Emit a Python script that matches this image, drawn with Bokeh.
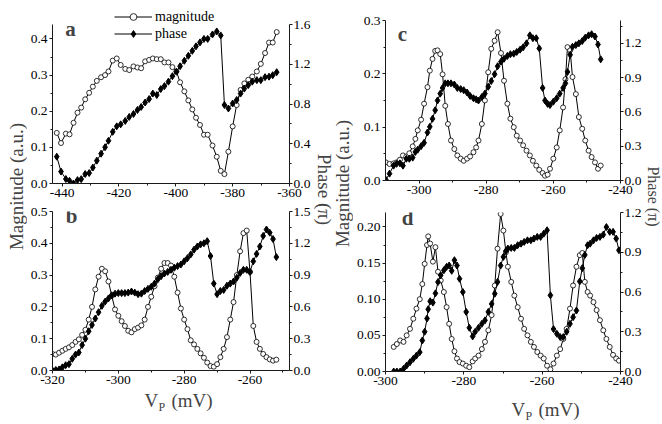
import math
from bokeh.plotting import figure
from bokeh.models import (Range1d, LinearAxis, FixedTicker, PrintfTickFormatter,
                          Label, Legend, LegendItem)
from bokeh.layouts import row, column
from bokeh.embed import file_html
from bokeh.resources import INLINE

SERIF = "Liberation Serif"

# ---------------- data ----------------
# panel a
a_x = [-441.9, -440.4, -438.7, -437.4, -436.0, -434.6, -433.3, -431.9, -430.5, -429.2,
       -427.8, -426.3, -424.9, -423.7, -422.2, -420.8, -419.4, -417.8, -416.4, -414.9,
       -413.5, -412.2, -410.8, -409.4, -408.1, -406.7, -405.3, -404.0, -402.6, -401.2,
       -399.8, -398.5, -397.0, -395.6, -394.2, -392.9, -391.5, -390.1, -388.8, -387.1,
       -385.6, -384.2, -382.9, -381.5, -380.0, -378.6, -377.2, -375.9, -374.5, -373.1,
       -371.5, -370.1, -368.6, -367.2, -365.9, -364.5]
a_mag = [0.140, 0.112, 0.138, 0.136, 0.168, 0.196, 0.210, 0.233, 0.251, 0.268,
         0.284, 0.294, 0.300, 0.310, 0.340, 0.346, 0.328, 0.317, 0.314, 0.324,
         0.321, 0.319, 0.338, 0.342, 0.346, 0.344, 0.344, 0.335, 0.335, 0.322,
         0.310, 0.280, 0.255, 0.230, 0.205, 0.182, 0.162, 0.135, 0.135, 0.105,
         0.074, 0.035, 0.026, 0.088, 0.158, 0.217, 0.259, 0.277, 0.287, 0.296,
         0.310, 0.331, 0.361, 0.390, 0.390, 0.419]
a_phase = [0.27, 0.12, 0.045, 0.027, 0.0, 0.034, 0.044, 0.095, 0.105, 0.16,
           0.23, 0.30, 0.365, 0.43, 0.52, 0.575, 0.595, 0.63, 0.67, 0.70,
           0.74, 0.77, 0.815, 0.85, 0.905, 0.89, 0.95, 0.98, 1.025, 1.08,
           1.125, 1.18, 1.235, 1.285, 1.335, 1.38, 1.42, 1.455, 1.455, 1.50,
           1.53, 1.49, 0.79, 0.755, 0.805, 0.84, 0.905, 0.955, 0.99, 1.025,
           1.04, 1.04, 1.07, 1.075, 1.09, 1.12]

# panel b
b_x = [-320, -319, -318, -317, -316, -315, -314, -313, -312, -311,
       -310, -309, -308, -307, -306, -305, -304, -303, -302, -301,
       -300, -299, -298, -297, -296, -295, -294, -293, -292, -291,
       -290, -289, -288, -287, -286, -285, -284, -283, -282, -281,
       -280, -279, -278, -277, -276, -275, -274, -273, -272, -271,
       -270, -269, -268, -267, -266, -265, -264, -263, -262, -261,
       -260, -259, -258, -257, -256, -255, -254, -253, -252]
b_mag = [0.052, 0.050, 0.056, 0.062, 0.068, 0.073, 0.080, 0.090, 0.098, 0.112,
         0.128, 0.160, 0.200, 0.255, 0.295, 0.320, 0.312, 0.280, 0.235, 0.192,
         0.172, 0.155, 0.140, 0.125, 0.120, 0.130, 0.135, 0.142, 0.160, 0.200,
         0.232, 0.265, 0.292, 0.320, 0.338, 0.338, 0.330, 0.295, 0.245, 0.195,
         0.160, 0.130, 0.095, 0.082, 0.068, 0.054, 0.040, 0.025, 0.014, 0.012,
         0.020, 0.042, 0.068, 0.105, 0.160, 0.215, 0.300, 0.375, 0.432, 0.440,
         0.310, 0.140, 0.090, 0.068, 0.052, 0.042, 0.035, 0.031, 0.034]
b_phase = [0.000, 0.005, 0.010, 0.030, 0.050, 0.060, 0.110, 0.150, 0.170, 0.240,
           0.300, 0.370, 0.430, 0.490, 0.550, 0.610, 0.650, 0.680, 0.710, 0.725,
           0.730, 0.730, 0.730, 0.735, 0.745, 0.735, 0.720, 0.725, 0.750, 0.770,
           0.790, 0.820, 0.860, 0.890, 0.915, 0.930, 0.950, 0.970, 0.985, 1.000,
           1.030, 1.060, 1.095, 1.140, 1.170, 1.190, 1.200, 1.220, 1.080, 0.820,
           0.720, 0.750, 0.760, 0.800, 0.820, 0.840, 0.875, 0.920, 0.950, 0.950,
           0.930, 1.030, 1.100, 1.170, 1.270, 1.330, 1.300, 1.240, 1.070]

# panel c
c_x = [-309.9, -308.8, -307.6, -306.7, -305.7, -304.8, -303.8, -302.9, -301.9, -301.1,
       -300.4, -299.4, -298.5, -297.5, -296.8, -296.0, -295.2, -294.5, -293.7, -293.0,
       -292.2, -291.4, -290.5, -289.5, -288.6, -287.6, -286.7, -285.7, -284.8, -283.8,
       -283.0, -282.3, -281.3, -280.4, -279.4, -278.5, -277.5, -276.6, -275.6, -274.7,
       -273.7, -272.8, -271.8, -270.9, -269.9, -269.0, -268.0, -267.0, -266.1, -265.1,
       -264.2, -263.2, -262.5, -261.7, -261.0, -260.0, -259.0, -258.1, -257.1, -256.4,
       -255.8, -255.0, -254.3, -253.3, -252.4, -251.4, -250.5, -249.5, -248.6, -247.6,
       -246.7, -245.9]
c_mag = [0.034, 0.031, 0.032, 0.034, 0.039, 0.047, 0.045, 0.051, 0.064, 0.078,
         0.094, 0.114, 0.144, 0.175, 0.206, 0.228, 0.243, 0.244, 0.237, 0.199,
         0.140, 0.106, 0.075, 0.059, 0.047, 0.041, 0.037, 0.041, 0.045, 0.053,
         0.062, 0.075, 0.106, 0.150, 0.203, 0.247, 0.262, 0.278, 0.239, 0.187,
         0.144, 0.116, 0.100, 0.084, 0.075, 0.066, 0.056, 0.047, 0.037, 0.028,
         0.020, 0.014, 0.009, 0.011, 0.022, 0.041, 0.062, 0.094, 0.137, 0.190,
         0.250, 0.244, 0.194, 0.162, 0.119, 0.097, 0.075, 0.056, 0.044, 0.034,
         0.022, 0.028]
c_phase = [0.006, 0.06, 0.13, 0.146, 0.15, 0.13, 0.19, 0.19, 0.20, 0.25,
           0.27, 0.30, 0.33, 0.42, 0.47, 0.54, 0.615, 0.70, 0.76, 0.81,
           0.85, 0.85, 0.85, 0.84, 0.81, 0.80, 0.79, 0.77, 0.74, 0.72,
           0.71, 0.70, 0.73, 0.76, 0.82, 0.87, 0.93, 1.00, 1.04, 1.065,
           1.09, 1.105, 1.11, 1.125, 1.145, 1.165, 1.20, 1.27, 1.245, 1.245,
           1.156, 0.81, 0.70, 0.67, 0.66, 0.69, 0.72, 0.76, 0.81, 0.85,
           0.95, 1.10, 1.17, 1.185, 1.20, 1.22, 1.25, 1.27, 1.28, 1.26,
           1.19, 1.06]

# panel d
d_x = [-297.9, -297.1, -296.25, -295.4, -294.6, -293.75, -292.9, -292.1, -291.25, -290.6,
       -290.0, -289.4, -289.1, -288.6, -287.9, -287.25, -286.6, -285.9, -285.1, -284.4,
       -283.75, -283.1, -282.4, -281.75, -281.1, -280.25, -279.4, -278.6, -277.75, -277.1,
       -276.25, -275.4, -274.6, -273.75, -272.9, -272.1, -271.4, -270.6, -269.9, -269.25,
       -268.75, -267.9, -267.1, -266.25, -265.4, -264.6, -263.75, -262.9, -262.1, -261.25,
       -260.4, -259.6, -258.75, -257.9, -257.1, -256.25, -255.4, -254.6, -253.75, -252.9,
       -252.1, -251.25, -250.4, -249.75, -249.1, -248.4, -247.75, -246.9, -246.1, -245.25,
       -244.4, -243.6, -242.75, -241.9, -241.1, -240.4]
d_mag = [0.034, 0.038, 0.043, 0.041, 0.050, 0.059, 0.073, 0.087, 0.100, 0.121,
         0.149, 0.175, 0.187, 0.177, 0.152, 0.172, 0.138, 0.126, 0.110, 0.089,
         0.066, 0.045, 0.028, 0.018, 0.013, 0.011, 0.008, 0.006, 0.014, 0.018,
         0.022, 0.031, 0.041, 0.057, 0.078, 0.119, 0.170, 0.218, 0.195, 0.165,
         0.145, 0.124, 0.105, 0.089, 0.073, 0.059, 0.050, 0.041, 0.034, 0.027,
         0.022, 0.018, 0.008, 0.003, 0.011, 0.022, 0.031, 0.045, 0.059, 0.087,
         0.119, 0.145, 0.161, 0.164, 0.124, 0.110, 0.105, 0.096, 0.085, 0.071,
         0.057, 0.045, 0.034, 0.023, 0.018, 0.015]
d_phase = [0.0, 0.0, 0.0, 0.02, 0.045, 0.07, 0.096, 0.12, 0.146, 0.234,
           0.30, 0.40, 0.47, 0.53, 0.52, 0.59, 0.675, 0.726, 0.764, 0.79,
           0.80, 0.76, 0.84, 0.80, 0.70, 0.60, 0.45, 0.33, 0.265, 0.30,
           0.33, 0.36, 0.386, 0.45, 0.51, 0.587, 0.676, 0.80, 0.865, 0.91,
           0.928, 0.933, 0.933, 0.953, 0.965, 0.978, 0.99, 0.99, 1.003, 1.016,
           1.016, 1.04, 1.066, 0.575, 0.32, 0.285, 0.26, 0.26, 0.30, 0.36,
           0.41, 0.46, 0.68, 0.78, 0.88, 0.953, 0.965, 0.99, 1.008, 1.016,
           1.033, 1.09, 1.054, 1.054, 1.003, 0.915]

# ticks
a_xticks = [-440, -420, -400, -380, -360]
a_xminor = [-430, -410, -390, -370]
a_lticks = [0.0, 0.1, 0.2, 0.3, 0.4]
a_lminor = [0.05, 0.15, 0.25, 0.35]
a_rticks = [0.0, 0.4, 0.8, 1.2, 1.6]
a_rminor = [0.2, 0.6, 1.0, 1.4]

b_xticks = [-320, -300, -280, -260]
b_xminor = [-310, -290, -270, -250]
b_lticks = [0.0, 0.1, 0.2, 0.3, 0.4, 0.5]
b_lminor = [0.05, 0.15, 0.25, 0.35, 0.45]
b_rticks = [0.0, 0.3, 0.6, 0.9, 1.2, 1.5]
b_rminor = [0.15, 0.45, 0.75, 1.05, 1.35]

c_xticks = [-300, -280, -260, -240]
c_xminor = [-290, -270, -250]
c_lticks = [0.0, 0.1, 0.2, 0.3]
c_lminor = [0.05, 0.15, 0.25]
c_rticks = [0.0, 0.3, 0.6, 0.9, 1.2]
c_rminor = [0.15, 0.45, 0.75, 1.05, 1.35]

d_xticks = [-300, -280, -260, -240]
d_xminor = [-290, -270, -250]
d_lticks = [0.00, 0.05, 0.10, 0.15, 0.20]
d_lminor = [0.025, 0.075, 0.125, 0.175]
d_rticks = [0.0, 0.3, 0.6, 0.9, 1.2]
d_rminor = [0.15, 0.45, 0.75, 1.05]

AX = "#1a1a1a"
PAGE_H = 424
TICK_FONT = "13.5px"


def style_axis(ax, ticks, minor, fmt, tick_out=3, standoff=2):
    ax.ticker = FixedTicker(ticks=ticks, minor_ticks=minor)
    ax.formatter = PrintfTickFormatter(format=fmt)
    ax.axis_line_color = AX
    ax.axis_line_width = 1
    ax.major_tick_line_color = AX
    ax.minor_tick_line_color = AX
    ax.major_tick_in = 0
    ax.major_tick_out = tick_out
    ax.minor_tick_in = 0
    ax.minor_tick_out = 2
    ax.major_label_text_font = SERIF
    ax.major_label_text_font_size = TICK_FONT
    ax.major_label_text_color = "black"
    ax.major_label_standoff = standoff


def make_panel(w, h, bl, br, bt, bb, xr, yl, yr, lbounds, rbounds,
               xt, xm, lt, lm, rt, rm, lfmt, rfmt,
               xs, mag, ph, letter, lx, ly):
    p = figure(width=w, height=h, min_border_left=bl, min_border_right=br,
               min_border_top=bt, min_border_bottom=bb,
               x_range=Range1d(*xr), y_range=Range1d(*yl),
               x_axis_type=None, y_axis_type=None,
               output_backend="svg", toolbar_location=None)
    p.extra_y_ranges = {"ph": Range1d(*yr)}
    p.outline_line_color = None
    p.background_fill_color = "white"
    p.border_fill_color = "white"

    xa = LinearAxis()
    style_axis(xa, xt, xm, "%d", tick_out=3, standoff=2)
    p.add_layout(xa, "below")
    la = LinearAxis(bounds=lbounds)
    style_axis(la, lt, lm, lfmt, tick_out=3, standoff=2)
    p.add_layout(la, "left")
    ra = LinearAxis(y_range_name="ph", bounds=rbounds)
    style_axis(ra, rt, rm, rfmt, tick_out=3, standoff=1)
    p.add_layout(ra, "right")

    ml = p.line(xs, mag, line_color="black", line_width=1)
    mc = p.scatter(xs, mag, marker="circle", size=5, fill_color="white",
                   line_color="black", line_width=0.8)
    pl = p.line(xs, ph, line_color="black", line_width=1, y_range_name="ph")
    pm = p.scatter(xs, ph, marker="diamond", size=7, fill_color="black",
                   line_color="black", y_range_name="ph")

    p.add_layout(Label(x=lx, y=ly, x_units="screen", y_units="screen",
                       text=letter, text_font=SERIF, text_font_style="bold",
                       text_font_size="21px", text_baseline="middle",
                       text_align="center"))
    return p, (ml, mc, pl, pm)


# left column x 27..313 ; right column x 353..644
# panel a: frame x 50..289, y 4..183 (axes bounded to their real ranges)
pa, rends = make_panel(286, 203, 23, 24, 4, 20, (-443.4, -360), (0, 0.4953), (0, 1.8013),
                       (0, 0.44), (0, 1.6),
                       a_xticks, a_xminor, a_lticks, a_lminor, a_rticks, a_rminor,
                       "%.1f", "%.1f", a_x, a_mag, a_phase, "a", 18, 155)
# panel b: frame x 50..289, y 211..370
pb, _ = make_panel(286, 188, 23, 24, 8, 21, (-320, -248), (0, 0.5), (0, 1.5),
                   "auto", "auto",
                   b_xticks, b_xminor, b_lticks, b_lminor, b_rticks, b_rminor,
                   "%.1f", "%.1f", b_x, b_mag, b_phase, "b", 19, 155)
# panel c: frame x 383..623, y 20..180
pc_, _ = make_panel(291, 203, 30, 21, 20, 23, (-310, -240), (0, 0.3), (0, 1.4),
                    "auto", "auto",
                    c_xticks, c_xminor, c_lticks, c_lminor, c_rticks, c_rminor,
                    "%.1f", "%.1f", c_x, c_mag, c_phase, "c", 17, 147)
# panel d: frame x 385..623, y 212..371
pd_, _ = make_panel(291, 189, 32, 21, 9, 21, (-300, -240), (0, 0.22), (0, 1.2),
                    "auto", "auto",
                    d_xticks, d_xminor, d_lticks, d_lminor, d_rticks, d_rminor,
                    "%.2f", "%.1f", d_x, d_mag, d_phase, "d", 22, 154)

# legend in panel a
ml, mc, pl, pm = rends
legend = Legend(items=[LegendItem(label="magnitude", renderers=[ml, mc]),
                       LegendItem(label="phase", renderers=[pl, pm])],
                location=(62, 141), orientation="vertical",
                background_fill_alpha=0, border_line_alpha=0,
                label_text_font=SERIF, label_text_font_size="14px",
                label_text_color="black", glyph_width=38, glyph_height=17,
                label_height=17, label_standoff=3, spacing=0, padding=0, margin=0)
pa.add_layout(legend)


def blank_fig(w, h):
    f = figure(width=w, height=h, min_border=0, x_range=Range1d(0, 1), y_range=Range1d(0, 1),
               x_axis_type=None, y_axis_type=None, output_backend="svg", toolbar_location=None)
    f.outline_line_color = None
    return f


def rot_fig(w, items):
    f = blank_fig(w, PAGE_H)
    for (x, y, t, ang, size) in items:
        f.add_layout(Label(x=x, y=PAGE_H - y, x_units="screen", y_units="screen", text=t,
                           angle=ang, text_font=SERIF, text_font_size=size,
                           text_align="center", text_baseline="middle"))
    return f


def vp_fig(w, h, x0, base_from_bottom):
    f = blank_fig(w, h)
    f.add_layout(Label(x=x0, y=base_from_bottom, x_units="screen", y_units="screen", text="V",
                       text_font=SERIF, text_font_size="19px"))
    f.add_layout(Label(x=x0 + 14, y=base_from_bottom - 3, x_units="screen", y_units="screen",
                       text="P", text_font=SERIF, text_font_size="12px"))
    f.add_layout(Label(x=x0 + 27, y=base_from_bottom, x_units="screen", y_units="screen",
                       text="(mV)", text_font=SERIF, text_font_size="19px"))
    return f


left_f = rot_fig(27, [(16, 186, "Magnitude (a.u.)", math.pi / 2, "19px")])         # x 0..27
mid_f = rot_fig(40, [(11, 189, "Phase (π)", -math.pi / 2, "19px"),                  # x 313..353
                     (29, 183, "Magnitude (a.u.)", math.pi / 2, "19px")])
right_f = rot_fig(18, [(9, 196, "Phase (π)", -math.pi / 2, "16px")])                # x 644..662

vp_left = vp_fig(286, 33, 92, 14)     # page: V at x 119, baseline y 410
vp_right = vp_fig(291, 32, 126, 5)    # page: V at x 479, baseline y 419

layout = row(left_f, column(pa, pb, vp_left), mid_f, column(pc_, pd_, vp_right), right_f)

open("out.html", "w").write(file_html(layout, INLINE))
